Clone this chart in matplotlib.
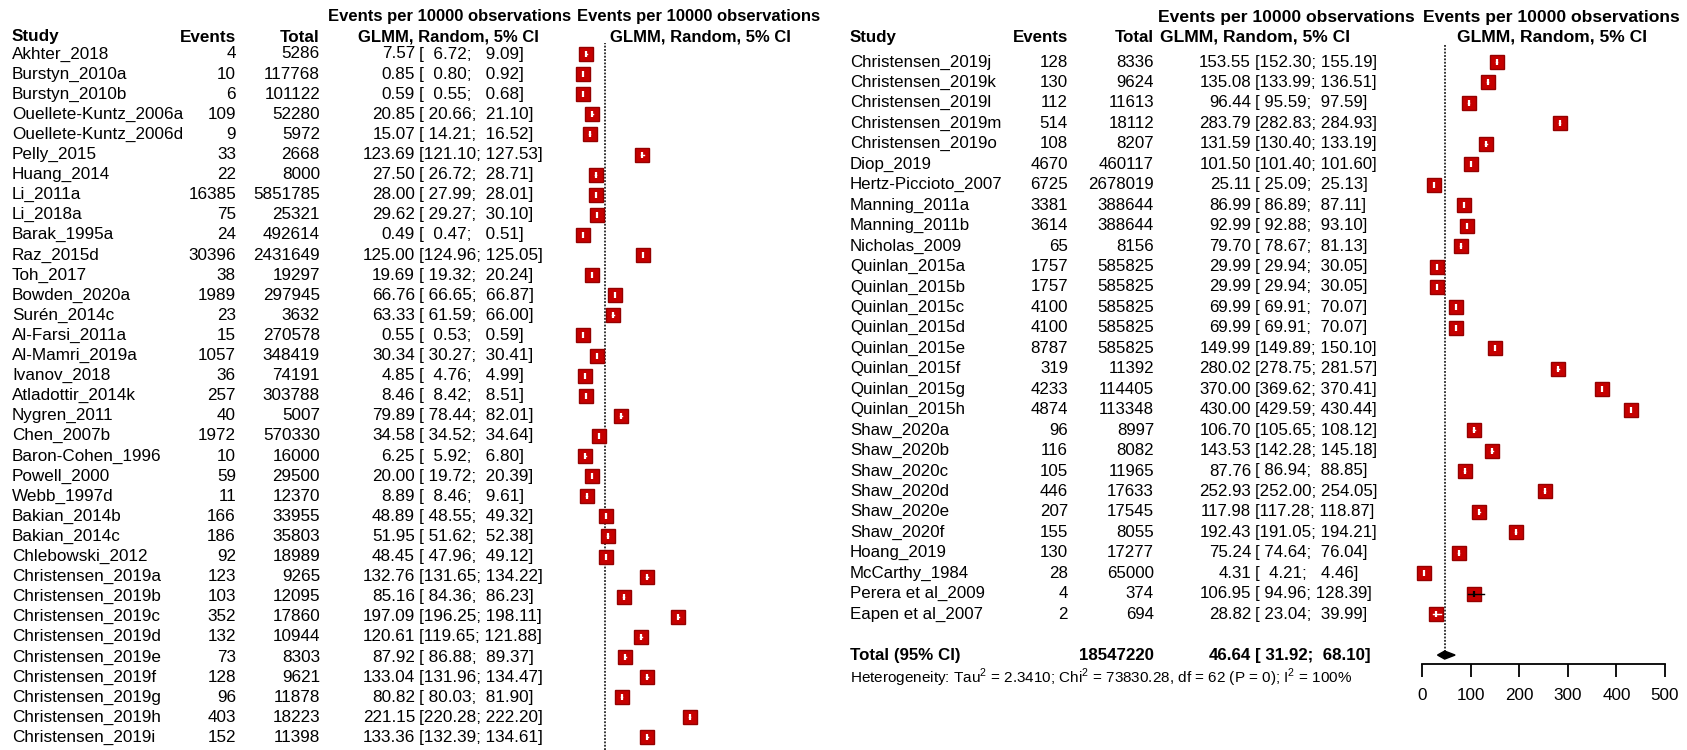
import matplotlib
matplotlib.use("Agg")
import matplotlib.pyplot as plt
from matplotlib.transforms import blended_transform_factory

plt.rcParams["font.family"] = ["Liberation Sans", "DejaVu Sans"]
plt.rcParams["mathtext.fontset"] = "custom"
plt.rcParams["mathtext.rm"] = "Liberation Sans"

# first block of studies
studies_left = ["Akhter_2018", "Burstyn_2010a", "Burstyn_2010b", "Ouellete-Kuntz_2006a",
                "Ouellete-Kuntz_2006d", "Pelly_2015", "Huang_2014", "Li_2011a", "Li_2018a",
                "Barak_1995a", "Raz_2015d", "Toh_2017", "Bowden_2020a", "Surén_2014c",
                "Al-Farsi_2011a", "Al-Mamri_2019a", "Ivanov_2018", "Atladottir_2014k",
                "Nygren_2011", "Chen_2007b", "Baron-Cohen_1996", "Powell_2000", "Webb_1997d",
                "Bakian_2014b", "Bakian_2014c", "Chlebowski_2012", "Christensen_2019a",
                "Christensen_2019b", "Christensen_2019c", "Christensen_2019d",
                "Christensen_2019e", "Christensen_2019f", "Christensen_2019g",
                "Christensen_2019h", "Christensen_2019i"]
events_left = [4, 10, 6, 109, 9, 33, 22, 16385, 75, 24, 30396, 38, 1989, 23, 15, 1057, 36,
               257, 40, 1972, 10, 59, 11, 166, 186, 92, 123, 103, 352, 132, 73, 128, 96, 403, 152]
total_left = [5286, 117768, 101122, 52280, 5972, 2668, 8000, 5851785, 25321, 492614, 2431649,
              19297, 297945, 3632, 270578, 348419, 74191, 303788, 5007, 570330, 16000, 29500,
              12370, 33955, 35803, 18989, 9265, 12095, 17860, 10944, 8303, 9621, 11878, 18223,
              11398]
est_left = [7.57, 0.85, 0.59, 20.85, 15.07, 123.69, 27.50, 28.00, 29.62, 0.49, 125.00, 19.69,
            66.76, 63.33, 0.55, 30.34, 4.85, 8.46, 79.89, 34.58, 6.25, 20.00, 8.89, 48.89,
            51.95, 48.45, 132.76, 85.16, 197.09, 120.61, 87.92, 133.04, 80.82, 221.15, 133.36]
lo_left = [6.72, 0.80, 0.55, 20.66, 14.21, 121.10, 26.72, 27.99, 29.27, 0.47, 124.96, 19.32,
           66.65, 61.59, 0.53, 30.27, 4.76, 8.42, 78.44, 34.52, 5.92, 19.72, 8.46, 48.55,
           51.62, 47.96, 131.65, 84.36, 196.25, 119.65, 86.88, 131.96, 80.03, 220.28, 132.39]
hi_left = [9.09, 0.92, 0.68, 21.10, 16.52, 127.53, 28.71, 28.01, 30.10, 0.51, 125.05, 20.24,
           66.87, 66.00, 0.59, 30.41, 4.99, 8.51, 82.01, 34.64, 6.80, 20.39, 9.61, 49.32,
           52.38, 49.12, 134.22, 86.23, 198.11, 121.88, 89.37, 134.47, 81.90, 222.20, 134.61]

# second block of studies
studies_right = ["Christensen_2019j", "Christensen_2019k", "Christensen_2019l",
                 "Christensen_2019m", "Christensen_2019o", "Diop_2019", "Hertz-Piccioto_2007",
                 "Manning_2011a", "Manning_2011b", "Nicholas_2009", "Quinlan_2015a",
                 "Quinlan_2015b", "Quinlan_2015c", "Quinlan_2015d", "Quinlan_2015e",
                 "Quinlan_2015f", "Quinlan_2015g", "Quinlan_2015h", "Shaw_2020a", "Shaw_2020b",
                 "Shaw_2020c", "Shaw_2020d", "Shaw_2020e", "Shaw_2020f", "Hoang_2019",
                 "McCarthy_1984", "Perera et al_2009", "Eapen et al_2007"]
events_right = [128, 130, 112, 514, 108, 4670, 6725, 3381, 3614, 65, 1757, 1757, 4100, 4100,
                8787, 319, 4233, 4874, 96, 116, 105, 446, 207, 155, 130, 28, 4, 2]
total_right = [8336, 9624, 11613, 18112, 8207, 460117, 2678019, 388644, 388644, 8156, 585825,
               585825, 585825, 585825, 585825, 11392, 114405, 113348, 8997, 8082, 11965, 17633,
               17545, 8055, 17277, 65000, 374, 694]
est_right = [153.55, 135.08, 96.44, 283.79, 131.59, 101.50, 25.11, 86.99, 92.99, 79.70, 29.99,
             29.99, 69.99, 69.99, 149.99, 280.02, 370.00, 430.00, 106.70, 143.53, 87.76, 252.93,
             117.98, 192.43, 75.24, 4.31, 106.95, 28.82]
lo_right = [152.30, 133.99, 95.59, 282.83, 130.40, 101.40, 25.09, 86.89, 92.88, 78.67, 29.94,
            29.94, 69.91, 69.91, 149.89, 278.75, 369.62, 429.59, 105.65, 142.28, 86.94, 252.00,
            117.28, 191.05, 74.64, 4.21, 94.96, 23.04]
hi_right = [155.19, 136.51, 97.59, 284.93, 133.19, 101.60, 25.13, 87.11, 93.10, 81.13, 30.05,
            30.05, 70.07, 70.07, 150.10, 281.57, 370.41, 430.44, 108.12, 145.18, 88.85, 254.05,
            118.87, 194.21, 76.04, 4.46, 128.39, 39.99]

# pooled random-effects estimate
pooled_total = 18547220
pooled = (46.64, 31.92, 68.10)
het_text = ("Heterogeneity: Tau$^2$ = 2.3410; Chi$^2$ = 73830.28, df = 62 (P = 0); "
            "I$^2$ = 100%")
xticks = [0, 100, 200, 300, 400, 500]

W, H = 1687, 750
fig = plt.figure(figsize=(W / 100, H / 100), dpi=100)

PX_PER_UNIT = 0.486
SQ_PX = 15
RED, RED_EDGE = "#c60000", "#940000"


def forest_axes(px_left, px_right, x_zero, y0, dy):
    ax = fig.add_axes([px_left / W, 0, (px_right - px_left) / W, 1])
    ax.set_xlim((px_left - x_zero) / PX_PER_UNIT, (px_right - x_zero) / PX_PER_UNIT)
    ax.set_ylim((H - y0) / dy, -y0 / dy)
    ax.axis("off")
    ax.row = lambda px: (px - y0) / dy
    return ax


def draw_studies(ax, est, lo, hi, rows):
    half = SQ_PX / 2 / PX_PER_UNIT
    for r, e, l, h in zip(rows, est, lo, hi):
        ax.plot(e, r, marker="s", ms=SQ_PX * 0.72 - 1, mfc=RED, mec=RED_EDGE, mew=1.0,
                zorder=3)
        col = "black" if (e - l > half or h - e > half) else "white"
        ax.plot([l, h], [r, r], color=col, lw=1.0, zorder=4)
        ax.plot(e, r, marker="|", ms=4.5, mew=1.6, color=col, zorder=5)


def table(ax, x_study, x_events, x_total, x_est, studies, events, totals, est, lo, hi, fs):
    tr = blended_transform_factory(fig.transFigure, ax.transData)
    for i, (s, ev, tot, e, l, h) in enumerate(zip(studies, events, totals, est, lo, hi)):
        kw = dict(transform=tr, fontsize=fs, va="center")
        ax.text(x_study / W, i, s, ha="left", **kw)
        ax.text(x_events / W, i, str(ev), ha="right", **kw)
        ax.text(x_total / W, i, str(tot), ha="right", **kw)
        ax.text(x_est / W, i, f"{e:.2f}", ha="right", **kw)
        ax.text((x_est + 4) / W, i, f"[{l:6.2f}; {h:6.2f}]", ha="left", **kw)


def headers(ax, x_study, x_events, x_total, heads, fs, fs_head):
    tr = blended_transform_factory(fig.transFigure, ax.transData)
    r1, r2 = ax.row(17), ax.row(37)
    kw = dict(transform=tr, fontweight="bold", va="center")
    ax.text(x_study / W, r2, "Study", ha="left", fontsize=fs, **kw)
    ax.text(x_events / W, r2, "Events", ha="right", fontsize=fs, **kw)
    ax.text(x_total / W, r2, "Total", ha="right", fontsize=fs, **kw)
    for x1, x2 in heads:
        ax.text(x1 / W, r1, "Events per 10000 observations", ha="left", fontsize=fs_head, **kw)
        ax.text(x2 / W, r2, "GLMM, Random, 5% CI", ha="left", fontsize=fs_head, **kw)


# left block
axl = forest_axes(545, 830, 582.3, 54, 20.1)
rows_l = list(range(len(studies_left)))
axl.axvline(pooled[0], ymin=0, ymax=1 - 43 / H, color="black", ls=(0, (1.2, 1.0)), lw=1.1)
draw_studies(axl, est_left + est_right[:1], lo_left + lo_right[:1], hi_left + hi_right[:1],
             rows_l + [len(rows_l)])
table(axl, 12, 236, 320, 415, studies_left, events_left, total_left, est_left, lo_left,
      hi_left, 12.3)
headers(axl, 12, 236, 320, [(328, 358), (577, 610)], 12.3, 12.0)

# right block
axr = forest_axes(1395, 1687, 1422, 62, 20.45)
rows_r = list(range(len(studies_right)))
total_row = len(studies_right) + 1
axr.plot([pooled[0], pooled[0]], [axr.row(45), total_row], color="black",
         ls=(0, (1.2, 1.0)), lw=1.1, zorder=1)
draw_studies(axr, est_right, lo_right, hi_right, rows_r)
dh = 4 / 20.45
axr.fill([pooled[1], pooled[0], pooled[2], pooled[0]],
         [total_row, total_row - dh, total_row, total_row + dh], color="black", zorder=5)
table(axr, 850, 1068, 1154, 1251, studies_right, events_right, total_right, est_right,
      lo_right, hi_right, 12.2)
headers(axr, 850, 1068, 1154, [(1158, 1160), (1423, 1457)], 12.2, 12.6)

tr = blended_transform_factory(fig.transFigure, axr.transData)
bkw = dict(transform=tr, fontsize=12.2, fontweight="bold", va="center")
axr.text(850 / W, total_row, "Total (95% CI)", ha="left", **bkw)
axr.text(1154 / W, total_row, str(pooled_total), ha="right", **bkw)
axr.text(1251 / W, total_row, f"{pooled[0]:.2f}", ha="right", **bkw)
axr.text(1255 / W, total_row, f"[{pooled[1]:6.2f}; {pooled[2]:6.2f}]", ha="left", **bkw)
axr.text(850 / W, axr.row(678), het_text, ha="left", va="center", transform=tr,
         fontsize=11)

# x axis under the right block
axx = fig.add_axes([1395 / W, 1 - 664 / H, (1687 - 1395) / W, 0.0001])
axx.set_xlim(axr.get_xlim())
axx.set_yticks([])
for side in ["top", "left", "right"]:
    axx.spines[side].set_visible(False)
axx.spines["bottom"].set_bounds(xticks[0], xticks[-1])
axx.spines["bottom"].set_linewidth(1.3)
axx.set_xticks(xticks)
axx.tick_params(axis="x", direction="out", length=9, width=1.3, pad=8, labelsize=12.3)
axx.patch.set_visible(False)

fig.savefig("out.png", dpi=100, facecolor="white")
